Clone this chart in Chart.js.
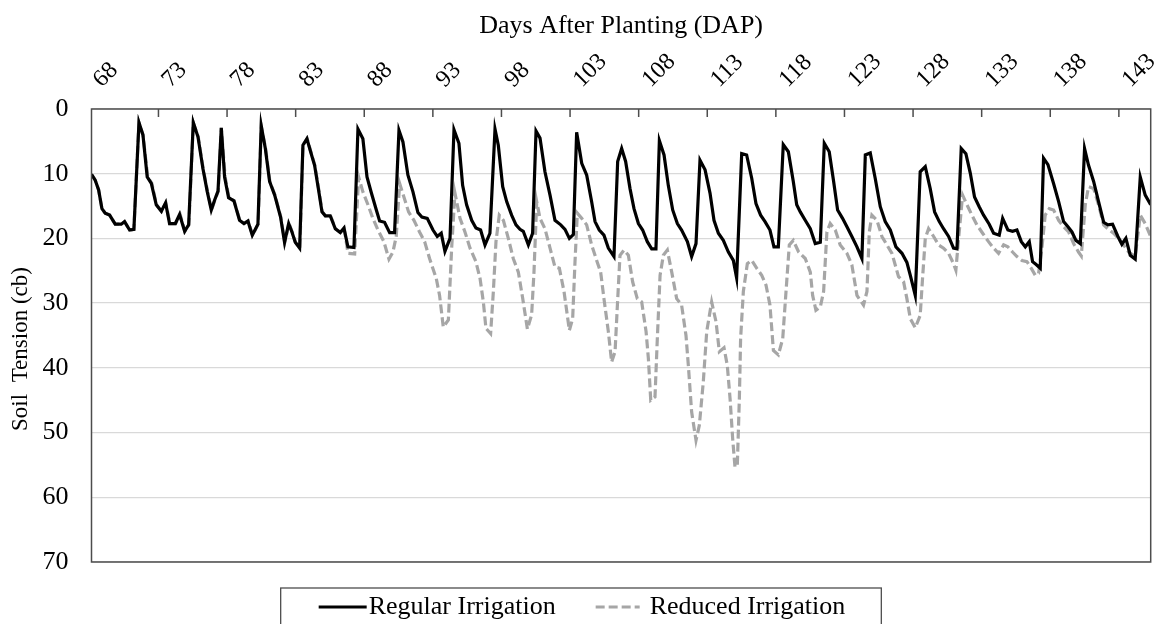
<!DOCTYPE html>
<html>
<head>
<meta charset="utf-8">
<script src="https://cdn.jsdelivr.net/npm/chart.js@4/dist/chart.umd.min.js"></script>
<style>
html,body{margin:0;padding:0;background:#fff;}
canvas{display:block;}
</style>
</head>
<body>
<canvas id="c" width="1154" height="624"></canvas>
<script>
// ---- data ----
const dayTicks = [68,73,78,83,88,93,98,103,108,113,118,123,128,133,138,143];
const tensionTicks = [0,10,20,30,40,50,60,70];
const seriesNames = ['Regular Irrigation','Reduced Irrigation'];
const xTitle = 'Days After Planting (DAP)';
const yTitle = 'Soil  Tension (cb)';

const regularDays = [68.12,68.39,68.64,68.88,69.12,69.44,69.85,70.29,70.53,70.90,71.21,71.58,71.87,72.18,72.48,72.84,73.21,73.52,73.81,74.23,74.54,74.91,75.20,75.54,75.88,76.24,76.56,76.85,77.09,77.34,77.58,77.82,78.11,78.50,78.91,79.23,79.52,79.84,80.25,80.49,80.79,81.10,81.47,81.90,82.19,82.49,82.73,82.97,83.29,83.53,83.82,84.09,84.38,84.67,84.92,85.16,85.52,85.89,86.25,86.52,86.81,87.25,87.54,87.90,88.20,88.51,88.88,89.12,89.48,89.85,90.21,90.53,90.82,91.18,91.55,91.91,92.20,92.59,93.01,93.32,93.61,93.88,94.25,94.54,94.90,95.17,95.46,95.83,96.14,96.48,96.80,97.16,97.53,97.77,98.09,98.38,98.74,99.06,99.35,99.59,99.96,100.27,100.52,100.81,101.17,101.54,101.90,102.32,102.63,102.95,103.24,103.48,103.85,104.21,104.57,104.82,105.13,105.47,105.79,106.20,106.47,106.76,107.05,107.37,107.66,107.98,108.29,108.63,108.95,109.26,109.51,109.85,110.16,110.48,110.82,111.13,111.55,111.86,112.18,112.47,112.84,113.20,113.49,113.81,114.17,114.54,114.90,115.14,115.51,115.87,116.24,116.55,116.89,117.21,117.57,117.86,118.18,118.54,118.91,119.27,119.52,119.78,120.14,120.51,120.87,121.24,121.53,121.89,122.21,122.50,122.86,123.18,123.54,123.91,124.27,124.52,124.88,125.24,125.61,125.97,126.34,126.75,127.19,127.55,127.80,128.16,128.52,128.89,129.25,129.57,129.91,130.22,130.59,130.95,131.20,131.51,131.85,132.17,132.48,132.82,133.14,133.55,133.87,134.28,134.53,134.91,135.25,135.57,135.89,136.18,136.47,136.71,136.95,137.27,137.51,137.83,138.24,138.61,138.97,139.29,139.58,139.87,140.19,140.50,140.79,141.16,141.52,141.89,142.20,142.54,142.93,143.22,143.51,143.83,144.19,144.56,144.92,145.32];
const regularTension = [10.1,11.0,12.5,15.4,16.1,16.4,17.8,17.8,17.4,18.7,18.6,2.1,4.0,10.5,11.5,14.8,15.8,14.5,17.7,17.7,16.3,18.9,17.9,2.1,4.3,9.2,12.8,15.6,14.1,12.7,2.9,10.5,13.7,14.2,17.2,17.7,17.3,19.5,17.8,2.6,6.1,11.2,13.3,16.7,20.6,17.7,19.0,20.6,21.5,5.6,4.6,6.6,8.7,12.5,15.9,16.5,16.5,18.5,19.1,18.4,21.3,21.4,3.1,4.6,10.5,12.9,15.6,17.3,17.5,19.1,19.1,3.3,5.1,10.2,12.8,16.0,16.7,16.9,18.7,19.7,19.2,22.0,20.0,3.2,5.3,11.8,14.8,17.2,18.4,18.7,21.0,19.2,3.1,5.6,12.0,14.3,16.4,17.9,18.6,18.9,21.0,19.2,3.4,4.5,9.7,13.3,17.2,17.9,18.6,20.0,19.4,3.6,8.4,10.2,14.3,17.4,18.7,19.5,21.5,22.8,8.1,6.1,8.1,12.3,15.4,17.7,18.7,20.5,21.6,21.6,4.9,7.1,11.8,15.6,17.7,18.7,20.5,22.8,20.8,7.9,9.4,13.0,17.2,19.2,20.3,22.1,23.4,26.1,6.9,7.1,10.7,14.6,16.4,17.4,18.7,21.3,21.3,5.5,6.6,11.2,14.8,15.9,17.2,18.5,20.8,20.6,5.3,6.6,11.2,15.6,16.9,18.2,19.7,21.3,23.1,7.1,6.8,10.7,15.1,17.4,18.7,21.3,22.3,23.7,25.7,28.8,9.7,8.9,12.3,15.9,17.4,18.5,19.7,21.5,21.6,6.1,6.9,9.9,13.6,15.1,16.4,17.8,19.2,19.5,16.9,18.7,18.9,18.7,20.5,21.3,20.5,23.6,24.0,24.6,7.6,8.6,11.5,14.3,17.4,18.2,19.0,20.3,20.8,6.1,8.7,11.2,14.3,17.5,17.9,17.8,19.7,20.9,20.0,22.6,23.2,10.5,13.3,14.8];

const reducedDays = [68.12,68.39,68.64,68.88,69.12,69.44,69.85,70.29,70.53,70.90,71.21,71.58,71.87,72.22,72.52,72.86,73.23,73.54,73.83,74.25,74.58,74.93,75.22,75.54,75.90,76.26,76.58,76.87,77.11,77.36,77.58,77.86,78.14,78.52,78.93,79.25,79.54,79.86,80.27,80.49,80.81,81.12,81.49,81.92,82.21,82.52,82.75,82.99,83.31,83.53,83.84,84.11,84.40,84.69,84.94,85.18,85.54,85.91,86.27,86.54,86.81,87.30,87.59,87.90,88.27,88.63,89.00,89.43,89.80,90.09,90.33,90.58,90.89,91.23,91.62,92.03,92.40,92.76,93.25,93.49,93.76,94.13,94.37,94.61,94.98,95.34,95.71,96.14,96.44,96.68,96.87,97.21,97.41,97.60,97.84,98.14,98.50,98.86,99.23,99.55,99.89,100.20,100.37,100.57,100.81,101.17,101.54,101.90,102.22,102.56,102.95,103.19,103.36,103.53,103.85,104.21,104.57,104.94,105.23,105.47,105.79,106.03,106.28,106.45,106.64,106.93,107.25,107.56,107.90,108.22,108.54,108.71,108.88,109.19,109.36,109.56,109.80,110.09,110.41,110.77,111.13,111.45,111.62,111.86,112.18,112.42,112.71,112.96,113.32,113.64,113.88,114.22,114.46,114.66,114.85,115.02,115.19,115.34,115.43,115.63,115.92,116.24,116.60,116.97,117.28,117.57,117.82,118.18,118.50,118.74,118.98,119.27,119.66,120.14,120.51,120.68,120.92,121.24,121.48,121.72,121.96,122.33,122.69,123.18,123.54,123.91,124.39,124.64,124.81,125.00,125.37,125.73,126.09,126.46,126.70,126.94,127.31,127.55,127.80,128.16,128.52,128.69,128.89,129.13,129.50,129.86,130.22,130.59,130.95,131.12,131.32,131.61,131.93,132.29,132.65,133.07,133.50,133.87,134.23,134.60,134.91,135.25,135.57,135.93,136.30,136.61,136.91,137.15,137.39,137.63,137.93,138.24,138.61,138.97,139.34,139.70,140.06,140.26,140.55,140.79,141.16,141.52,141.89,142.25,142.61,142.98,143.34,143.71,144.19,144.56,144.92,145.32];
const reducedTension = [10.1,11.0,12.5,15.4,16.1,16.4,17.8,17.8,17.4,18.7,18.6,2.1,4.0,10.5,11.5,14.8,15.8,14.5,17.7,17.7,16.3,18.9,17.9,2.1,4.3,9.2,12.8,15.6,14.1,12.7,2.9,10.5,13.7,14.2,17.2,17.7,17.3,19.5,17.8,2.6,6.1,11.2,13.3,16.7,20.6,17.7,19.0,20.6,21.5,5.6,4.6,6.6,8.7,12.5,15.9,16.5,16.5,18.5,19.1,18.4,22.3,22.4,10.5,12.8,14.8,16.9,18.7,20.5,23.2,22.1,19.7,11.5,13.6,15.9,17.2,19.0,20.5,23.1,26.2,28.8,33.7,32.6,21.5,13.0,16.9,19.0,21.5,23.6,26.2,29.8,33.9,34.7,28.2,20.5,16.4,17.2,20.0,23.1,25.2,29.3,34.0,31.8,25.2,14.3,16.9,18.5,21.5,24.4,24.6,28.2,34.2,32.4,23.6,16.1,16.9,17.9,21.0,23.4,25.2,29.3,34.4,39.1,37.5,30.3,22.6,21.8,22.6,26.7,29.3,29.8,34.4,38.6,45.0,44.5,35.5,25.7,22.6,21.8,25.2,29.3,30.3,35.0,39.6,46.8,51.2,48.9,42.2,34.4,29.8,32.9,37.5,36.9,39.6,44.7,50.9,55.3,55.1,44.7,35.5,28.2,23.9,23.4,24.6,25.7,27.2,30.3,37.3,38.0,35.5,28.2,21.0,20.3,22.1,23.1,25.2,28.8,31.1,30.6,28.2,19.0,17.7,18.7,21.0,22.3,24.1,28.8,30.3,28.2,19.0,16.4,17.2,19.7,21.0,22.3,24.1,25.9,26.7,29.3,32.4,33.8,31.9,26.2,20.0,18.5,19.7,21.0,21.5,22.3,23.9,24.9,20.0,13.3,14.8,16.4,17.9,19.2,20.5,21.5,22.3,21.0,21.3,22.1,22.8,23.4,23.6,24.6,25.7,25.4,21.5,16.4,15.4,15.6,17.2,18.2,19.0,20.8,22.1,22.7,14.8,12.0,12.3,14.8,17.9,18.6,19.2,20.0,21.0,22.1,22.8,16.4,17.7,19.7];

// ---- styling ----
const SERIF = '"Liberation Serif", "Times New Roman", serif';
const X_MIN = 68.12, X_MAX = 145.32;

const toPoints = (xs, ys) => xs.map((x, i) => ({x: x, y: ys[i]}));

const framePlugin = {
  id: 'frameAndLegend',
  afterDraw(chart) {
    const ctx = chart.ctx;
    const a = chart.chartArea;
    const xs = chart.scales.x;
    ctx.save();
    // plot frame
    ctx.strokeStyle = '#4d4d4d';
    ctx.lineWidth = 1.5;
    ctx.strokeRect(a.left, a.top, a.right - a.left, a.bottom - a.top);
    // inward tick marks on the top axis
    ctx.beginPath();
    dayTicks.forEach(d => {
      const px = xs.getPixelForValue(d);
      if (px > a.left + 2 && px < a.right - 2) {
        ctx.moveTo(px, a.top);
        ctx.lineTo(px, a.top + 8);
      }
    });
    ctx.stroke();

    // rotated day labels above the top axis
    ctx.fillStyle = '#000';
    ctx.font = '24px ' + SERIF;
    ctx.textAlign = 'left';
    ctx.textBaseline = 'alphabetic';
    dayTicks.forEach(d => {
      const px = xs.getPixelForValue(d);
      ctx.save();
      ctx.translate(px + 12, a.top - 21);
      ctx.rotate(-Math.PI / 4);
      ctx.fillText(String(d), 0, 0);
      ctx.restore();
    });

    // y axis title
    ctx.save();
    ctx.font = '23px ' + SERIF;
    ctx.textAlign = 'center';
    ctx.textBaseline = 'middle';
    ctx.translate(21, 349);
    ctx.rotate(-Math.PI / 2);
    ctx.fillText(yTitle, 0, 0);
    ctx.restore();

    // legend
    const ds = chart.data.datasets;
    ctx.font = '26px ' + SERIF;
    const w0 = ctx.measureText(ds[0].label).width;
    const w1 = ctx.measureText(ds[1].label).width;
    const padL = 38, line0 = 48, gap0 = 2, spacing = 40, line1 = 44, gap1 = 10, padR = 36;
    const total = padL + line0 + gap0 + w0 + spacing + line1 + gap1 + w1 + padR;
    const boxL = chart.width / 2 + 4 - total / 2;
    const boxT = 588;
    const cy = 607;
    ctx.strokeStyle = '#4d4d4d';
    ctx.lineWidth = 1.3;
    ctx.strokeRect(boxL, boxT, total, 60);
    let x = boxL + padL;
    ctx.beginPath();
    ctx.strokeStyle = ds[0].borderColor;
    ctx.lineWidth = ds[0].borderWidth;
    ctx.setLineDash(ds[0].borderDash || []);
    ctx.moveTo(x, cy); ctx.lineTo(x + line0, cy); ctx.stroke();
    x += line0 + gap0;
    ctx.fillStyle = '#000';
    ctx.textBaseline = 'middle';
    ctx.textAlign = 'left';
    ctx.fillText(ds[0].label, x, cy);
    x += w0 + spacing;
    ctx.beginPath();
    ctx.strokeStyle = ds[1].borderColor;
    ctx.lineWidth = ds[1].borderWidth;
    ctx.setLineDash(ds[1].borderDash || []);
    ctx.moveTo(x, cy); ctx.lineTo(x + line1, cy); ctx.stroke();
    ctx.setLineDash([]);
    x += line1 + gap1;
    ctx.fillText(ds[1].label, x, cy);
    ctx.restore();
  }
};

new Chart(document.getElementById('c'), {
  type: 'line',
  data: {
    datasets: [
      {
        label: seriesNames[0],
        data: toPoints(regularDays, regularTension),
        borderColor: '#000000',
        borderWidth: 3.2,
        pointRadius: 0,
        tension: 0,
        fill: false
      },
      {
        label: seriesNames[1],
        data: toPoints(reducedDays, reducedTension),
        borderColor: '#a6a6a6',
        borderWidth: 3.2,
        borderDash: [9, 4],
        pointRadius: 0,
        tension: 0,
        fill: false
      }
    ]
  },
  options: {
    responsive: false,
    devicePixelRatio: 1,
    animation: false,
    layout: { padding: { left: 0, right: 3.3, top: 0, bottom: 62 } },
    plugins: {
      legend: { display: false },
      tooltip: { enabled: false }
    },
    scales: {
      x: {
        type: 'linear',
        position: 'top',
        min: X_MIN,
        max: X_MAX,
        afterBuildTicks(scale) { scale.ticks = dayTicks.map(v => ({value: v})); },
        afterFit(scale) { scale.height = 109; scale.paddingLeft = 0; scale.paddingRight = 0; },
        ticks: { display: false, autoSkip: false },
        grid: { display: false, drawTicks: false },
        border: { display: false },
        title: {
          display: true,
          text: xTitle,
          color: '#000',
          font: { family: SERIF, size: 26 },
          padding: { top: 11, bottom: 0 }
        }
      },
      y: {
        type: 'linear',
        reverse: true,
        min: 0,
        max: 70,
        afterBuildTicks(scale) { scale.ticks = tensionTicks.map(v => ({value: v})); },
        afterFit(scale) { scale.width = 91.5; scale.paddingTop = 0; scale.paddingBottom = 0; },
        ticks: {
          padding: 23,
          color: '#000',
          font: { family: SERIF, size: 26 }
        },
        grid: { color: '#d9d9d9', lineWidth: 1.3, drawTicks: false },
        border: { display: false },
        title: { display: false }
      }
    }
  },
  plugins: [framePlugin]
});
</script>
</body>
</html>
